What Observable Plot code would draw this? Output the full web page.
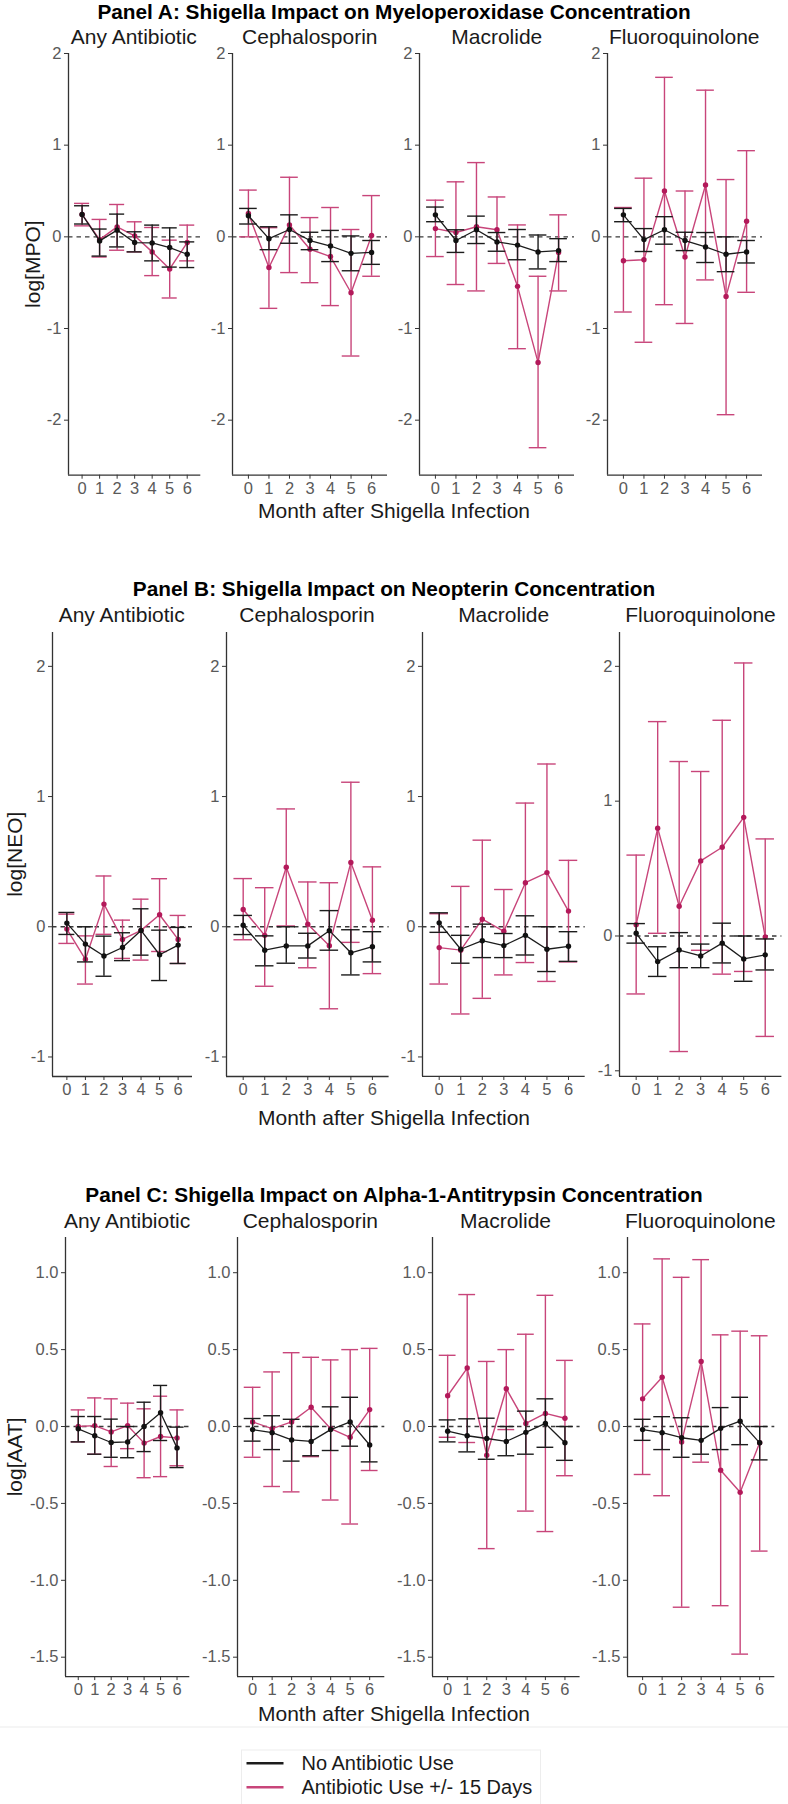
<!DOCTYPE html>
<html>
<head>
<meta charset="utf-8">
<script src="https://cdn.jsdelivr.net/npm/d3@7"></script>
<script src="https://cdn.jsdelivr.net/npm/@observablehq/plot@0.6"></script>
<style>
  html, body { margin: 0; padding: 0; background: #fff; }
  #chart { position: relative; width: 788px; height: 1804px; overflow: hidden;
           font-family: "Liberation Sans", Arial, sans-serif; }
  #overlay { position: absolute; left: 0; top: 0; pointer-events: none; }
</style>
</head>
<body>
<div id="chart"></div>
<script>
// ---- categories, labels, ticks ----
const months = [0, 1, 2, 3, 4, 5, 6];
const facetNames = ["Any Antibiotic", "Cephalosporin", "Macrolide", "Fluoroquinolone"];
const seriesNames = ["No Antibiotic Use", "Antibiotic Use +/- 15 Days"];
const panelTitles = [
  "Panel A: Shigella Impact on Myeloperoxidase Concentration",
  "Panel B: Shigella Impact on Neopterin Concentration",
  "Panel C: Shigella Impact on Alpha-1-Antitrypsin Concentration"
];
const yLabels = ["log[MPO]", "log[NEO]", "log[AAT]"];
const xLabel = "Month after Shigella Infection";
const yTicksMPO = [-2, -1, 0, 1, 2];
const yTicksNEO = [-1, 0, 1, 2];
const yTicksAAT = [-1.5, -1, -0.5, 0, 0.5, 1];

// ---- Panel A: log[MPO], one row per facet (months 0..6) ----
const mpoNoneEst = [
  [0.244, -0.044, 0.073, -0.062, -0.066, -0.117, -0.19],
  [0.23, -0.02, 0.08, -0.04, -0.10, -0.18, -0.17],
  [0.24, -0.04, 0.077, -0.055, -0.09, -0.165, -0.15],
  [0.24, -0.03, 0.077, -0.04, -0.11, -0.19, -0.165]
];
const mpoNoneLo = [
  [0.14, -0.21, -0.11, -0.164, -0.262, -0.33, -0.335],
  [0.14, -0.14, -0.07, -0.14, -0.27, -0.37, -0.30],
  [0.165, -0.17, -0.073, -0.157, -0.25, -0.35, -0.27],
  [0.165, -0.16, -0.08, -0.15, -0.28, -0.38, -0.285]
];
const mpoNoneHi = [
  [0.339, 0.085, 0.248, 0.055, 0.128, 0.098, -0.055],
  [0.31, 0.11, 0.24, 0.05, 0.07, 0.01, -0.04],
  [0.325, 0.077, 0.226, 0.047, 0.08, 0.02, -0.02],
  [0.31, 0.09, 0.22, 0.05, 0.047, 0.0, -0.04]
];
const mpoAbxEst = [
  [0.245, -0.03, 0.109, 0.011, -0.164, -0.35, -0.062],
  [0.255, -0.335, 0.13, -0.135, -0.215, -0.61, 0.015],
  [0.09, 0.047, 0.11, 0.077, -0.54, -1.37, -0.17],
  [-0.26, -0.25, 0.50, -0.22, 0.565, -0.65, 0.17]
];
const mpoAbxLo = [
  [0.12, -0.22, -0.146, -0.164, -0.423, -0.667, -0.262],
  [0.0, -0.78, -0.39, -0.50, -0.75, -1.30, -0.43],
  [-0.215, -0.52, -0.59, -0.29, -1.22, -2.30, -0.59],
  [-0.82, -1.15, -0.74, -0.945, -0.47, -1.94, -0.605]
];
const mpoAbxHi = [
  [0.365, 0.19, 0.353, 0.164, 0.102, -0.036, 0.128],
  [0.51, 0.10, 0.65, 0.21, 0.32, 0.08, 0.45],
  [0.40, 0.60, 0.81, 0.435, 0.13, -0.43, 0.24],
  [0.32, 0.64, 1.74, 0.50, 1.60, 0.625, 0.94]
];

// ---- Panel B: log[NEO] ----
const neoNoneEst = [
  [0.028, -0.133, -0.225, -0.159, -0.028, -0.215, -0.141],
  [0.012, -0.18, -0.147, -0.147, -0.03, -0.2, -0.153],
  [0.03, -0.173, -0.107, -0.145, -0.066, -0.173, -0.15],
  [0.02, -0.19, -0.104, -0.148, -0.053, -0.17, -0.14]
];
const neoNoneLo = [
  [-0.059, -0.27, -0.38, -0.26, -0.218, -0.413, -0.282],
  [-0.06, -0.30, -0.28, -0.24, -0.18, -0.37, -0.27],
  [-0.043, -0.28, -0.237, -0.237, -0.217, -0.344, -0.266],
  [-0.053, -0.30, -0.235, -0.235, -0.20, -0.336, -0.252]
];
const neoNoneHi = [
  [0.11, 0.0, -0.072, -0.046, 0.138, -0.026, -0.005],
  [0.087, -0.07, 0.0, -0.05, 0.124, -0.023, -0.038],
  [0.107, -0.066, 0.02, -0.052, 0.084, 0.0, -0.038],
  [0.092, -0.08, 0.025, -0.06, 0.095, 0.0, -0.022]
];
const neoAbxEst = [
  [-0.018, -0.25, 0.174, -0.097, -0.028, 0.092, -0.097],
  [0.133, -0.066, 0.457, 0.02, -0.145, 0.494, 0.05],
  [-0.16, -0.18, 0.058, -0.035, 0.338, 0.416, 0.12],
  [0.084, 0.80, 0.22, 0.557, 0.658, 0.88, -0.008]
];
const neoAbxLo = [
  [-0.128, -0.44, -0.058, -0.243, -0.256, -0.19, -0.282],
  [-0.10, -0.457, 0.006, -0.315, -0.63, -0.12, -0.36],
  [-0.44, -0.67, -0.55, -0.37, -0.275, -0.42, -0.27],
  [-0.43, 0.02, -0.857, -0.106, -0.283, -0.263, -0.745]
];
const neoAbxHi = [
  [0.097, -0.07, 0.39, 0.051, 0.212, 0.369, 0.087],
  [0.37, 0.30, 0.905, 0.344, 0.338, 1.11, 0.46],
  [0.10, 0.31, 0.665, 0.286, 0.95, 1.25, 0.51],
  [0.60, 1.59, 1.294, 1.22, 1.60, 2.025, 0.72]
];

// ---- Panel C: log[AAT] ----
const aatNoneEst = [
  [-0.015, -0.06, -0.104, -0.10, 0.0, 0.089, -0.139],
  [-0.02, -0.04, -0.087, -0.097, -0.02, 0.03, -0.12],
  [-0.03, -0.06, -0.078, -0.097, -0.038, 0.02, -0.106],
  [-0.02, -0.04, -0.073, -0.09, -0.012, 0.035, -0.106]
];
const aatNoneLo = [
  [-0.10, -0.18, -0.20, -0.203, -0.163, -0.091, -0.267],
  [-0.095, -0.15, -0.225, -0.19, -0.156, -0.128, -0.23],
  [-0.10, -0.165, -0.213, -0.19, -0.18, -0.135, -0.22],
  [-0.09, -0.15, -0.2, -0.18, -0.15, -0.118, -0.217]
];
const aatNoneHi = [
  [0.065, 0.065, 0.048, 0.0, 0.158, 0.267, -0.004],
  [0.052, 0.07, 0.047, 0.0, 0.128, 0.19, 0.0],
  [0.043, 0.05, 0.054, 0.0, 0.10, 0.18, 0.0],
  [0.047, 0.064, 0.057, 0.0, 0.123, 0.19, 0.0]
];
const aatAbxEst = [
  [0.0, 0.006, -0.035, 0.006, -0.108, -0.065, -0.074],
  [0.03, -0.014, 0.03, 0.125, -0.014, -0.07, 0.11],
  [0.2, 0.38, -0.187, 0.246, 0.02, 0.085, 0.054],
  [0.18, 0.32, -0.10, 0.423, -0.284, -0.428, -0.106]
];
const aatAbxLo = [
  [-0.10, -0.18, -0.26, -0.144, -0.333, -0.326, -0.255],
  [-0.2, -0.39, -0.425, -0.196, -0.478, -0.634, -0.286],
  [-0.07, -0.104, -0.794, -0.02, -0.55, -0.683, -0.32],
  [-0.312, -0.45, -1.175, -0.232, -1.165, -1.48, -0.81]
];
const aatAbxHi = [
  [0.108, 0.186, 0.18, 0.152, 0.115, 0.197, 0.108],
  [0.255, 0.355, 0.48, 0.45, 0.433, 0.50, 0.508],
  [0.463, 0.858, 0.423, 0.50, 0.6, 0.853, 0.43],
  [0.667, 1.09, 0.97, 1.085, 0.596, 0.62, 0.59]
];

// ---- styling ----
const BLACK = "#1c1c1c";
const PINK = "#c8457a";
const PINK_DOT = "#b3195a";
const AXIS = "#333333";
const TICK_TEXT = "#5a5a5a";
const FONT = "'Liberation Sans', Arial, Helvetica, sans-serif";
const CAP = 0.43;                 // half-width of error-bar caps, in months
const X_DOMAIN = [-0.775, 6.775];

// ---- layout of the three stacked panels (pixel frame of each facet) ----
const panels = [
  {
    noneEst: mpoNoneEst, noneLo: mpoNoneLo, noneHi: mpoNoneHi,
    abxEst: mpoAbxEst, abxLo: mpoAbxLo, abxHi: mpoAbxHi,
    yDomain: [[-2.6, 2.0], [-2.6, 2.0], [-2.6, 2.0], [-2.6, 2.0]],
    ticks: yTicksMPO, fmt: d => String(d),
    top: 53.3, bottom: 475,
    left: [67.7, 232.3, 419.3, 606.7], right: [200, 387.3, 574.3, 761.7],
    titleY: 18.5, facetY: 43.5, xTitleY: 518, yTitleX: 40
  },
  {
    noneEst: neoNoneEst, noneLo: neoNoneLo, noneHi: neoNoneHi,
    abxEst: neoAbxEst, abxLo: neoAbxLo, abxHi: neoAbxHi,
    yDomain: [[-1.15, 2.26], [-1.15, 2.26], [-1.15, 2.26], [-1.042, 2.251]],
    ticks: yTicksNEO, fmt: d => String(d),
    top: 632.2, bottom: 1076.2,
    left: [51.7, 225.7, 422.3, 619.3], right: [191.7, 388.3, 585, 781.7],
    titleY: 596, facetY: 622, xTitleY: 1125, yTitleX: 21.5
  },
  {
    noneEst: aatNoneEst, noneLo: aatNoneLo, noneHi: aatNoneHi,
    abxEst: aatAbxEst, abxLo: aatAbxLo, abxHi: aatAbxHi,
    yDomain: [[-1.626, 1.229], [-1.626, 1.229], [-1.626, 1.229], [-1.626, 1.229]],
    ticks: yTicksAAT, fmt: d => d.toFixed(1),
    top: 1237.3, bottom: 1676.4,
    left: [65, 236.7, 431.7, 626.7], right: [189.3, 384, 579.3, 774],
    titleY: 1201.5, facetY: 1228, xTitleY: 1721, yTitleX: 21.5
  }
];

const chart = document.getElementById("chart");

function rows(est, lo, hi) {
  return months.map((m, i) => ({month: m, est: est[i], lo: lo[i], hi: hi[i]}));
}

// error bars (vertical rule + two caps), connecting line and points for one series
function seriesMarks(data, stroke, dotFill, lineWidth) {
  return [
    Plot.ruleX(data, {x: "month", y1: "lo", y2: "hi", stroke, strokeWidth: 1.4}),
    Plot.ruleY(data, {y: "hi", x1: d => d.month - CAP, x2: d => d.month + CAP, stroke, strokeWidth: 1.4}),
    Plot.ruleY(data, {y: "lo", x1: d => d.month - CAP, x2: d => d.month + CAP, stroke, strokeWidth: 1.4}),
    Plot.line(data, {x: "month", y: "est", stroke, strokeWidth: lineWidth}),
    Plot.dot(data, {x: "month", y: "est", r: 2.7, fill: dotFill, stroke: "none"})
  ];
}

function drawFacet(p, f) {
  const ML = 46, MR = 8, MT = 6, MB = 32;
  const ax = p.left[f], rx = p.right[f];
  const width = ML + (rx - ax) + MR;
  const height = MT + (p.bottom - p.top) + MB;
  const none = rows(p.noneEst[f], p.noneLo[f], p.noneHi[f]);
  const abx = rows(p.abxEst[f], p.abxLo[f], p.abxHi[f]);
  const yDomain = p.yDomain[f];

  const svg = Plot.plot({
    width, height,
    marginLeft: ML, marginRight: MR, marginTop: MT, marginBottom: MB,
    style: {background: "transparent", overflow: "visible", fontFamily: FONT, maxWidth: "none"},
    x: {domain: X_DOMAIN, label: null},
    y: {domain: yDomain, label: null},
    marks: [
      Plot.ruleY([0], {stroke: "#3a3a3a", strokeWidth: 1.3, strokeDasharray: "4.5,4"}),
      ...seriesMarks(abx, PINK, PINK_DOT, 1.4),
      ...seriesMarks(none, BLACK, "#111", 1.3),
      Plot.axisY({ticks: p.ticks, tickFormat: p.fmt, tickSize: 4, tickPadding: 3,
                  fontSize: 16.5, fill: TICK_TEXT, stroke: AXIS, label: null}),
      Plot.axisX({ticks: months, tickFormat: d => String(d), tickSize: 4, tickPadding: 3,
                  fontSize: 16.5, fill: TICK_TEXT, stroke: AXIS, label: null}),
      Plot.ruleX([X_DOMAIN[0]], {stroke: AXIS, strokeWidth: 1.3}),
      Plot.ruleY([yDomain[0]], {stroke: AXIS, strokeWidth: 1.3})
    ]
  });
  svg.style.position = "absolute";
  svg.style.left = (ax - ML) + "px";
  svg.style.top = (p.top - MT) + "px";
  chart.appendChild(svg);
}

panels.forEach(p => facetNames.forEach((_, f) => drawFacet(p, f)));

// ---- titles, axis titles, separator and legend ----
const overlay = d3.select(chart).append("svg")
  .attr("id", "overlay")
  .attr("width", 788).attr("height", 1804)
  .style("font-family", FONT);

panels.forEach((p, i) => {
  overlay.append("text")
    .attr("x", 394).attr("y", p.titleY)
    .attr("text-anchor", "middle")
    .attr("font-size", 20.8).attr("font-weight", "bold").attr("fill", "#000")
    .text(panelTitles[i]);

  facetNames.forEach((name, f) => {
    overlay.append("text")
      .attr("x", (p.left[f] + p.right[f]) / 2).attr("y", p.facetY)
      .attr("text-anchor", "middle")
      .attr("font-size", 21).attr("fill", "#1a1a1a")
      .text(name);
  });

  overlay.append("text")
    .attr("x", 394).attr("y", p.xTitleY)
    .attr("text-anchor", "middle")
    .attr("font-size", 21).attr("fill", "#1a1a1a")
    .text(xLabel);

  overlay.append("text")
    .attr("transform", `translate(${p.yTitleX},${(p.top + p.bottom) / 2}) rotate(-90)`)
    .attr("text-anchor", "middle")
    .attr("font-size", 21).attr("fill", "#1a1a1a")
    .text(yLabels[i]);
});

// faint separator above the legend
overlay.append("line")
  .attr("x1", 0).attr("x2", 788).attr("y1", 1727).attr("y2", 1727)
  .attr("stroke", "#ececec").attr("stroke-width", 1.2);

// legend
const legend = overlay.append("g");
legend.append("rect")
  .attr("x", 241.5).attr("y", 1750).attr("width", 299).attr("height", 70)
  .attr("fill", "#fff").attr("stroke", "#ededed").attr("stroke-width", 1);
[BLACK, PINK].forEach((color, i) => {
  const cy = 1763.3 + i * 24;
  legend.append("line")
    .attr("x1", 246.5).attr("x2", 283.5).attr("y1", cy).attr("y2", cy)
    .attr("stroke", color).attr("stroke-width", 2.4);
  legend.append("text")
    .attr("x", 301.5).attr("y", cy + 7)
    .attr("font-size", 20).attr("fill", "#1a1a1a")
    .text(seriesNames[i]);
});
</script>
</body>
</html>
